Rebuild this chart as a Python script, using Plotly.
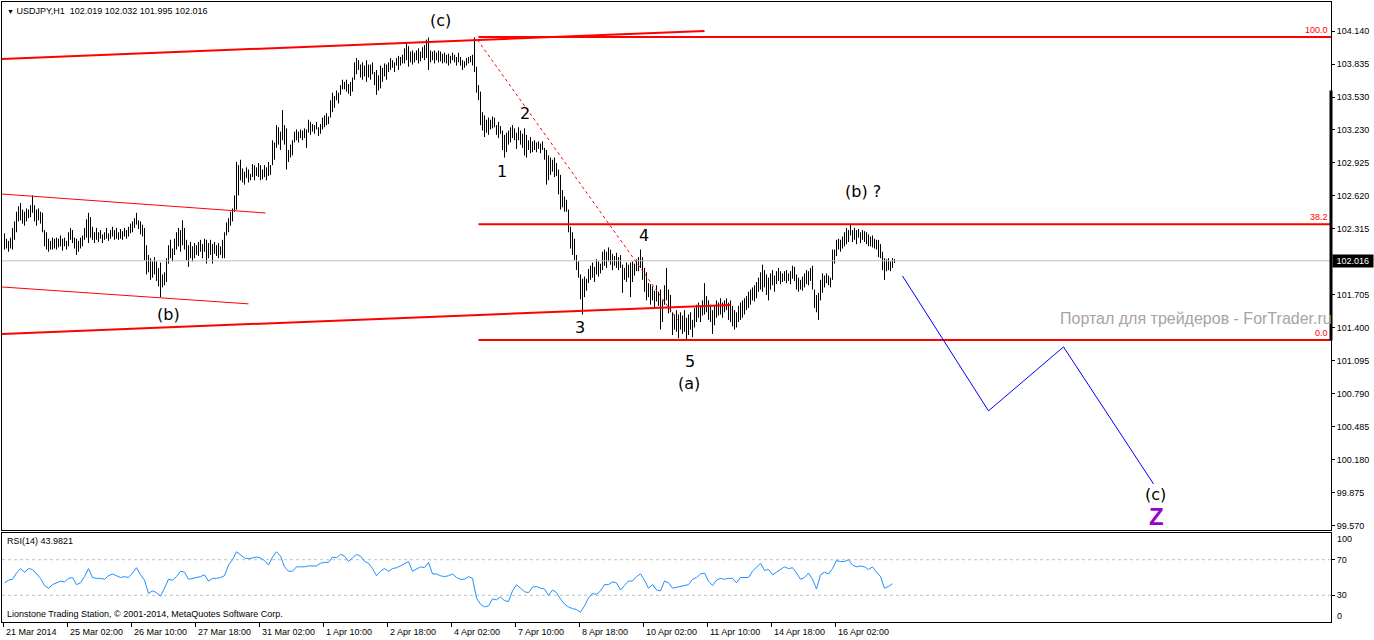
import plotly.graph_objects as go

# ---------------- data ----------------
highs = [
102.27,102.22,102.20,102.23,102.32,102.38,102.47,102.52,102.55,102.49,
102.47,102.50,102.49,102.53,102.62,102.53,102.49,102.50,102.47,102.46,
102.30,102.28,102.22,102.20,102.23,102.22,102.23,102.22,102.25,102.22,
102.23,102.20,102.28,102.32,102.30,102.23,102.22,102.20,102.23,102.25,
102.32,102.40,102.46,102.42,102.33,102.28,102.32,102.28,102.30,102.26,
102.28,102.32,102.27,102.30,102.33,102.30,102.32,102.28,102.31,102.29,
102.32,102.30,102.33,102.36,102.38,102.41,102.46,102.39,102.38,102.35,
102.32,102.16,102.07,102.04,102.01,102.05,102.01,101.95,102.00,101.89,
101.91,102.04,102.16,102.21,102.13,102.22,102.28,102.32,102.30,102.39,
102.32,102.21,102.16,102.19,102.15,102.18,102.16,102.19,102.21,102.17,
102.22,102.21,102.18,102.21,102.17,102.19,102.16,102.18,102.15,102.21,
102.28,102.37,102.41,102.47,102.50,102.62,102.93,102.90,102.95,102.87,
102.84,102.88,102.86,102.82,102.91,102.90,102.88,102.92,102.90,102.86,
102.90,102.88,102.93,102.90,103.13,103.11,103.27,103.25,103.21,103.41,
103.27,103.24,103.04,103.09,103.13,103.21,103.23,103.21,103.23,103.22,
103.24,103.23,103.32,103.30,103.28,103.27,103.30,103.25,103.28,103.34,
103.36,103.38,103.35,103.50,103.57,103.54,103.59,103.57,103.64,103.69,
103.67,103.69,103.65,103.67,103.71,103.85,103.89,103.87,103.83,103.85,
103.82,103.87,103.83,103.83,103.85,103.76,103.78,103.73,103.82,103.80,
103.84,103.83,103.85,103.89,103.87,103.85,103.89,103.91,103.90,103.92,
103.98,104.03,104.00,103.95,103.96,103.94,103.96,103.98,103.95,103.99,
104.01,104.06,104.08,103.96,103.95,103.96,103.94,103.96,103.95,103.93,
103.94,103.92,103.93,103.91,103.94,103.92,103.90,103.94,103.90,103.87,
103.86,103.89,103.90,103.91,103.92,104.08,103.81,103.64,103.58,103.39,
103.36,103.32,103.34,103.32,103.35,103.34,103.27,103.30,103.26,103.22,
103.18,103.20,103.22,103.25,103.27,103.24,103.20,103.25,103.22,103.19,
103.24,103.18,103.13,103.16,103.12,103.13,103.11,103.12,103.10,103.12,
103.06,103.04,102.99,102.97,102.95,102.97,102.92,102.86,102.81,102.67,
102.61,102.58,102.49,102.33,102.28,102.22,102.07,102.01,101.89,101.85,
101.87,101.85,101.94,101.97,102.00,101.96,102.03,102.01,101.99,102.10,
102.12,102.10,102.14,102.12,102.08,102.06,102.09,102.05,102.07,101.98,
101.95,102.00,101.98,102.00,102.01,101.99,102.03,102.05,102.12,102.05,
101.95,101.91,101.81,101.80,101.78,101.74,101.79,101.73,101.75,101.65,
101.79,101.95,101.75,101.70,101.54,101.52,101.56,101.52,101.54,101.51,
101.56,101.49,101.52,101.54,101.47,101.58,101.61,101.63,101.60,101.65,
101.81,101.69,101.65,101.61,101.56,101.60,101.65,101.63,101.67,101.63,
101.65,101.67,101.63,101.65,101.60,101.56,101.54,101.60,101.63,101.65,
101.67,101.69,101.73,101.75,101.77,101.79,101.82,101.86,101.91,101.98,
101.93,101.89,101.86,101.90,101.93,101.88,101.92,101.95,101.92,101.90,
101.92,101.93,101.90,101.92,101.97,101.96,101.89,101.86,101.84,101.87,
101.90,101.93,101.92,101.95,101.97,101.75,101.70,101.72,101.84,101.90,
101.88,101.90,101.88,101.86,102.12,102.12,102.21,102.22,102.21,102.24,
102.28,102.32,102.30,102.35,102.30,102.32,102.30,102.31,102.28,102.30,
102.29,102.28,102.26,102.24,102.25,102.22,102.21,102.21,102.17,102.10,
102.04,102.03,102.04,102.01,102.04,102.032]

lows = [
102.12,102.13,102.10,102.13,102.12,102.21,102.28,102.38,102.39,102.36,
102.34,102.38,102.41,102.42,102.46,102.38,102.34,102.39,102.36,102.28,
102.15,102.12,102.10,102.12,102.12,102.13,102.12,102.14,102.15,102.11,
102.15,102.12,102.15,102.21,102.18,102.13,102.07,102.10,102.13,102.15,
102.21,102.23,102.18,102.23,102.21,102.18,102.21,102.19,102.22,102.18,
102.21,102.22,102.20,102.22,102.24,102.21,102.22,102.21,102.22,102.21,
102.24,102.22,102.24,102.27,102.28,102.32,102.35,102.31,102.26,102.24,
102.02,101.89,101.91,101.84,101.86,101.89,101.83,101.78,101.68,101.77,
101.79,101.82,101.99,102.04,102.01,102.07,102.12,102.15,102.10,102.16,
102.12,102.02,101.96,102.04,102.01,102.04,102.07,102.06,102.10,102.04,
102.10,101.99,102.04,102.07,101.99,102.08,102.06,102.04,102.07,102.04,
102.04,102.25,102.28,102.34,102.38,102.47,102.49,102.62,102.76,102.74,
102.72,102.78,102.74,102.76,102.79,102.76,102.80,102.79,102.76,102.77,
102.79,102.76,102.80,102.81,102.90,102.95,103.06,103.09,103.04,103.13,
103.09,102.86,102.93,102.97,102.99,103.11,103.13,103.11,103.15,103.13,
103.15,103.06,103.20,103.18,103.21,103.19,103.23,103.17,103.19,103.23,
103.25,103.27,103.28,103.34,103.39,103.43,103.50,103.47,103.55,103.60,
103.60,103.58,103.56,103.54,103.58,103.69,103.74,103.78,103.71,103.69,
103.72,103.67,103.71,103.69,103.74,103.64,103.55,103.59,103.61,103.67,
103.72,103.69,103.76,103.78,103.80,103.76,103.82,103.78,103.82,103.84,
103.84,103.87,103.81,103.85,103.83,103.85,103.87,103.84,103.86,103.89,
103.87,103.89,103.78,103.85,103.87,103.84,103.87,103.85,103.86,103.84,
103.85,103.84,103.82,103.84,103.87,103.85,103.82,103.85,103.82,103.78,
103.80,103.82,103.84,103.85,103.82,103.76,103.57,103.50,103.27,103.22,
103.16,103.20,103.18,103.23,103.24,103.25,103.18,103.15,103.19,103.04,
102.97,103.02,103.09,103.11,103.15,103.13,103.05,103.13,103.09,103.06,
102.99,102.97,103.04,103.01,103.02,103.04,103.02,103.05,103.01,103.04,
102.95,102.72,102.76,102.81,102.84,102.79,102.80,102.63,102.49,102.51,
102.47,102.47,102.28,102.13,102.07,102.02,101.93,101.86,101.66,101.52,
101.68,101.74,101.81,101.84,101.86,101.82,101.89,101.87,101.90,101.93,
101.97,101.95,102.01,101.98,101.93,101.97,101.95,101.93,101.95,101.72,
101.84,101.82,101.86,101.68,101.82,101.88,101.92,101.92,101.95,101.84,
101.73,101.65,101.68,101.61,101.65,101.59,101.64,101.60,101.38,101.45,
101.61,101.65,101.53,101.54,101.33,101.38,101.36,101.30,101.38,101.34,
101.36,101.29,101.33,101.38,101.31,101.40,101.45,101.49,101.45,101.51,
101.52,101.54,101.47,101.45,101.34,101.42,101.49,101.51,101.52,101.49,
101.54,101.56,101.47,101.45,101.41,101.38,101.40,101.45,101.47,101.49,
101.52,101.56,101.58,101.61,101.65,101.64,101.67,101.73,101.75,101.73,
101.77,101.70,101.65,101.75,101.79,101.73,101.80,101.83,101.80,101.82,
101.83,101.81,101.83,101.80,101.85,101.83,101.75,101.73,101.75,101.74,
101.77,101.80,101.79,101.83,101.75,101.58,101.54,101.47,101.65,101.72,
101.77,101.81,101.79,101.77,101.84,101.99,102.06,102.12,102.10,102.13,
102.15,102.17,102.19,102.25,102.19,102.21,102.17,102.23,102.18,102.21,
102.19,102.17,102.15,102.15,102.14,102.13,102.12,102.05,102.04,101.93,
101.84,101.92,101.93,101.92,101.95,101.995]

# RSI(14), read every second bar
rsi = [
44,47,48,55,60,56,60,59,54,49,41,38,42,44,46,45,49,50,42,44,
51,60,50,49,49,48,52,54,52,50,51,50,55,61,53,47,32,35,33,29,
38,48,47,51,57,56,48,49,50,51,53,46,49,49,50,52,64,70,79,76,
72,71,72,73,72,69,64,73,79,74,62,57,57,62,62,62,63,63,63,66,
67,67,73,72,76,74,68,72,76,74,68,66,60,52,57,60,57,60,61,63,
66,68,57,60,62,61,67,54,54,52,51,52,54,50,48,48,51,49,27,20,
17,18,26,25,28,24,23,35,42,38,34,33,39,40,38,37,30,36,33,26,
20,17,15,14,11,18,27,32,31,35,42,42,45,44,36,41,46,46,51,54,
47,38,42,36,35,46,44,38,39,40,41,42,48,50,54,55,46,41,47,49,
48,49,49,44,50,50,50,57,62,66,58,59,53,56,60,62,60,61,55,48,
50,55,48,37,53,56,54,60,69,68,68,70,64,62,63,62,59,62,56,51,
38,40,43]
rsi_step = 2

price_tick_labels = ["104.140","103.835","103.530","103.230","102.925","102.620","102.315",
                     "101.705","101.400","101.095","100.790","100.485","100.180","99.875","99.570"]
date_labels = ["21 Mar 2014","25 Mar 02:00","26 Mar 10:00","27 Mar 18:00","31 Mar 02:00",
               "1 Apr 10:00","2 Apr 18:00","4 Apr 02:00","7 Apr 10:00","8 Apr 18:00",
               "10 Apr 02:00","11 Apr 10:00","14 Apr 18:00","16 Apr 02:00"]
bars_per_date_label = 32

last_price = 102.016
header = "USDJPY,H1  102.019 102.032 101.995 102.016"
rsi_value_text = "RSI(14) 43.9821"

# drawn objects (bar index, price)
upper_channel_bars, upper_channel_prices = [-2, 350], [103.881, 104.140]
lower_channel_bars, lower_channel_prices = [-2, 363], [101.340, 101.608]
thin_upper_bars, thin_upper_prices = [-2, 130.5], [102.634, 102.458]
thin_lower_bars, thin_lower_prices = [-2, 122], [101.775, 101.618]
dotted_bars, dotted_prices = [236.5, 336.5], [104.057, 101.470]
proj_bars = [449, 492, 529.5, 574.5]
proj_prices = [101.876, 100.629, 101.220, 99.954]
fib_high, fib_low, fib_start_bar = 104.085, 101.285, 237
fib_ratios = [1.0, 0.382, 0.0]
fib_texts = ["100.0", "38.2", "0.0"]

wave_texts  = ["(c)", "(b)", "2", "1", "4", "3", "5", "(a)", "(b) ?", "(c)"]
wave_bars   = [218, 82, 260, 248.5, 319.5, 287.5, 342.5, 342, 429, 575.5]
wave_prices = [104.24, 101.52, 103.38, 102.84, 102.25, 101.40, 101.09, 100.88, 102.66, 99.86]

# ---------------- layout geometry ----------------
W, H = 1374, 640
def pxx(p): return p / W
def pxy(p): return 1 - p / H

X0 = -1.25
X1 = X0 + (1331 - 2) / 2.0
PMIN, PMAX = 99.528, 104.408
FONT = "Liberation Sans, Arial, sans-serif"
WAVEFONT = "DejaVu Sans, Verdana, sans-serif"

fig = go.Figure()

# price bars
bx, by = [], []
for i, (h, l) in enumerate(zip(highs, lows)):
    bx += [i, i, None]
    by += [l, h, None]
fig.add_trace(go.Scatter(x=bx, y=by, mode="lines", line=dict(color="black", width=1),
                         hoverinfo="skip", xaxis="x", yaxis="y"))

def line(xs, ys, color, width, dash="solid"):
    fig.add_trace(go.Scatter(x=xs, y=ys, mode="lines",
                             line=dict(color=color, width=width, dash=dash),
                             hoverinfo="skip", xaxis="x", yaxis="y"))

# current price line
line([X0, X1], [last_price, last_price], "#c0c0c0", 1)
line(upper_channel_bars, upper_channel_prices, "#ff0000", 2)
line(lower_channel_bars, lower_channel_prices, "#ff0000", 2)
line(thin_upper_bars, thin_upper_prices, "#ff0000", 1)
line(thin_lower_bars, thin_lower_prices, "#ff0000", 1)
line(dotted_bars, dotted_prices, "#ff0000", 1, "dot")
fib_levels = [fib_low + r * (fib_high - fib_low) for r in fib_ratios]
for lv in fib_levels:
    line([fib_start_bar, X1], [lv, lv], "#ff0000", 2)
line(proj_bars, proj_prices, "#0000ff", 1)

# RSI
rsi_x = [i * rsi_step for i in range(len(rsi))]
fig.add_trace(go.Scatter(x=[X0, X1, None, X0, X1], y=[70, 70, None, 30, 30], mode="lines",
                         line=dict(color="#c0c0c0", width=1, dash="3px,3px"),
                         hoverinfo="skip", xaxis="x2", yaxis="y2"))
fig.add_trace(go.Scatter(x=rsi_x, y=rsi, mode="lines", line=dict(color="#1e90ff", width=1),
                         hoverinfo="skip", xaxis="x2", yaxis="y2"))

ann = []
for t, b, p in zip(wave_texts, wave_bars, wave_prices):
    ann.append(dict(x=b, y=p, xref="x", yref="y", text=t, showarrow=False,
                    xanchor="center", yanchor="middle",
                    font=dict(family=WAVEFONT, size=16, color="black")))
ann.append(dict(x=576, y=99.65, xref="x", yref="y", text="<b>Z</b>", showarrow=False,
                xanchor="center", yanchor="middle",
                font=dict(family=FONT, size=24, color="#9900cc")))
for t, lv in zip(fib_texts, fib_levels):
    ann.append(dict(x=pxx(1330), y=lv, xref="paper", yref="y", text=t, showarrow=False,
                    xanchor="right", yanchor="bottom", font=dict(family=FONT, size=9, color="#ff0000")))
ann.append(dict(x=pxx(1058), y=101.48, xref="paper", yref="y", xanchor="left", yanchor="middle",
                text="Портал для трейдеров - ForTrader.ru", showarrow=False,
                font=dict(family=FONT, size=16, color="#aaa2a2")))
ann.append(dict(x=pxx(1332), y=last_price, xref="paper", yref="y", xanchor="left", yanchor="middle",
                text=" 102.016 ", showarrow=False, bgcolor="black", borderpad=1,
                font=dict(family=FONT, size=9, color="white")))

def paper_text(t, px, py, size=9, color="black"):
    ann.append(dict(x=pxx(px), y=pxy(py), xref="paper", yref="paper", xanchor="left",
                    yanchor="middle", text=t, showarrow=False,
                    font=dict(family=FONT, size=size, color=color)))

paper_text("<span style='font-size:7px'>▼</span> " + header, 5, 11)
paper_text(rsi_value_text, 5, 541)
paper_text("Lionstone Trading Station, © 2001-2014, MetaQuotes Software Corp.", 5, 614)
paper_text("100", 1335, 539)
paper_text("0", 1335, 616)

date_ticks = [bars_per_date_label * k - 0.5 for k in range(len(date_labels))]
for t, b in zip(date_labels, date_ticks):
    ann.append(dict(x=b, y=pxy(632), xref="x2", yref="paper", xanchor="left", yanchor="middle",
                    text=t, showarrow=False, font=dict(family=FONT, size=9, color="black")))

# thick handle on price scale
shapes = [dict(type="line", xref="paper", yref="y", x0=pxx(1331), x1=pxx(1331),
               y0=103.59, y1=101.28, line=dict(color="black", width=3))]

axis_common = dict(showgrid=False, zeroline=False, showline=True, mirror=True,
                   linecolor="black", linewidth=1)
fig.update_layout(
    width=W, height=H, margin=dict(l=0, r=0, t=0, b=0, autoexpand=False),
    paper_bgcolor="white", plot_bgcolor="white", showlegend=False,
    xaxis=dict(domain=[pxx(2), pxx(1331)], range=[X0, X1], anchor="y",
               showticklabels=False, ticks="", **axis_common),
    yaxis=dict(domain=[pxy(530), pxy(2)], range=[PMIN, PMAX], side="right", anchor="x",
               tickvals=[float(s) for s in price_tick_labels], ticktext=price_tick_labels,
               ticks="outside", ticklen=3, tickcolor="black",
               tickfont=dict(family=FONT, size=9, color="black"), **axis_common),
    xaxis2=dict(domain=[pxx(2), pxx(1331)], range=[X0, X1], anchor="y2",
                tickvals=date_ticks, showticklabels=False, ticks="outside", ticklen=4,
                tickcolor="black", **axis_common),
    yaxis2=dict(domain=[pxy(622), pxy(533)], range=[0, 100], side="right", anchor="x2",
                tickvals=[70, 30], ticktext=["70", "30"], ticks="outside", ticklen=3,
                tickcolor="black", tickfont=dict(family=FONT, size=9, color="black"),
                **axis_common),
    annotations=ann, shapes=shapes,
)

fig.write_html("out.html", config={"displayModeBar": False},
               post_script="document.body.style.margin='0';document.body.style.padding='0';")
